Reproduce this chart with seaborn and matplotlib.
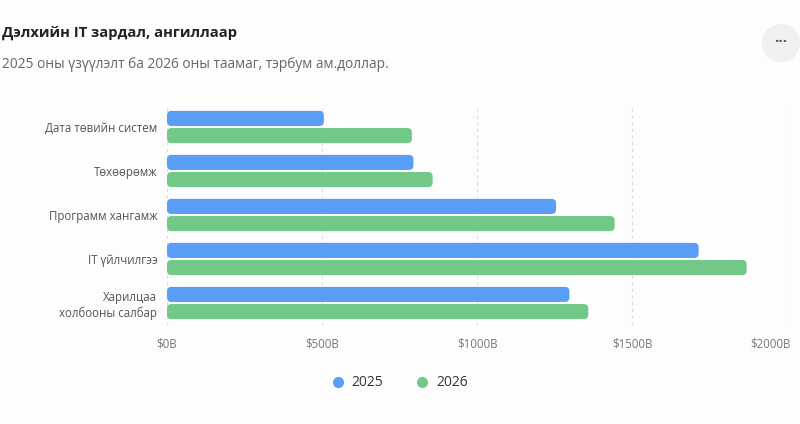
import numpy as np
import pandas as pd
import matplotlib
matplotlib.use("Agg")
import matplotlib.pyplot as plt
import seaborn as sns
from matplotlib.patches import FancyBboxPatch, Ellipse
from matplotlib.lines import Line2D
from matplotlib.ticker import FuncFormatter
import matplotlib.transforms as mtransforms

# --- Datos ---
categorias = ["Дата төвийн систем", "Төхөөрөмж", "Программ хангамж",
              "IT үйлчилгээ", "Харилцаа\nхолбооны салбар"]
valores_2025 = [506, 795, 1255, 1715, 1298]
valores_2026 = [790, 857, 1444, 1870, 1359]
anios = ["2025", "2026"]
ticks_x = [0, 500, 1000, 1500, 2000]

azul = "#589ef7"
verde = "#72c987"
fondo = "#fdfdfd"

df = pd.DataFrame({
    "categoria": categorias * 2,
    "valor": valores_2025 + valores_2026,
    "anio": [anios[0]] * len(categorias) + [anios[1]] * len(categorias),
})

sns.set_theme(style="white")
plt.rcParams["font.family"] = ["Open Sans", "DejaVu Sans"]

fig = plt.figure(figsize=(8, 4.24), dpi=100, facecolor=fondo)
ax = fig.add_axes([167 / 800, 99 / 424, 620 / 800, 220 / 424])
ax.set_facecolor(fondo)

sns.barplot(data=df, y="categoria", x="valor", hue="anio", orient="h",
            palette=[azul, verde], saturation=1, width=0.78, gap=0.12,
            legend=False, ax=ax)

ax.set_xlim(0, 2000)
ax.set_ylim(len(categorias) - 0.5, -0.5)

# --- Barras redondeadas ---
fig.canvas.draw()
px_x = ax.transData.transform((1, 0))[0] - ax.transData.transform((0, 0))[0]
px_y = abs(ax.transData.transform((0, 1))[1] - ax.transData.transform((0, 0))[1])
radio_px = 4.5
for p in list(ax.patches):
    x0, y0, w, h = p.get_x(), p.get_y(), p.get_width(), p.get_height()
    color = p.get_facecolor()
    p.remove()
    barra = FancyBboxPatch((x0, y0), w, h,
                           boxstyle=f"round,pad=0,rounding_size={radio_px / px_x}",
                           mutation_aspect=px_x / px_y,
                           facecolor=color, edgecolor="none", zorder=3)
    ax.add_patch(barra)

# --- Ejes y rejilla ---
ax.set_xticks(ticks_x)
ax.xaxis.set_major_formatter(FuncFormatter(lambda v, _: f"${int(v)}B"))
ax.grid(axis="x", color="#dddddd", linestyle=(0, (3, 3)), linewidth=0.8, zorder=0)
ax.grid(axis="y", visible=False)
for s in ax.spines.values():
    s.set_visible(False)
ax.tick_params(axis="x", length=0, pad=9, labelsize=8.3, labelcolor="#777777")
ax.tick_params(axis="y", length=0, pad=7, labelsize=8.3, labelcolor="#555555")
for t in ax.get_yticklabels():
    t.set_horizontalalignment("right")
# la última etiqueta queda dentro del lienzo
ultima = ax.get_xticklabels()[-1]
ultima.set_horizontalalignment("right")
ultima.set_transform(ultima.get_transform() +
                     mtransforms.ScaledTranslation(4 / 100, 0, fig.dpi_scale_trans))
ax.set_xlabel("")
ax.set_ylabel("")

# --- Títulos ---
fig.text(2 / 800, 1 - 33 / 424, "Дэлхийн IT зардал, ангиллаар", fontsize=10.6,
         fontweight="bold", color="#222222", va="center", ha="left")
fig.text(2 / 800, 1 - 64 / 424,
         "2025 оны үзүүлэлт ба 2026 оны таамаг, тэрбум ам.доллар.",
         fontsize=9.9, color="#666666", va="center", ha="left")

# --- Botón de menú ---
fig.patches.append(Ellipse((781 / 800, 1 - 43 / 424), 38 / 800, 38 / 424,
                           transform=fig.transFigure, facecolor="#f0f0f0",
                           edgecolor="none", figure=fig))
fig.text(781 / 800, 1 - 42 / 424, "···", fontsize=11, fontweight="bold",
         color="#555555", ha="center", va="center")

# --- Leyenda ---
manijas = [Line2D([], [], marker="o", linestyle="none", markersize=8,
                  markerfacecolor=c, markeredgecolor="none") for c in [azul, verde]]
fig.legend(manijas, anios, loc="center", bbox_to_anchor=(0.5, 1 - 383 / 424),
           ncol=2, frameon=False, fontsize=10, handlelength=0.8,
           handletextpad=0.6, columnspacing=2.4, labelcolor="#333333")

fig.savefig("out.png", dpi=100, facecolor=fondo)
